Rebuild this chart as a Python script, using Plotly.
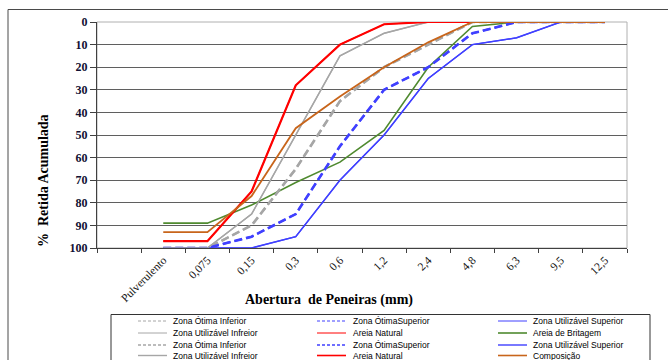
import plotly.graph_objects as go

# Sieve openings (mm); the first slot on the axis is left empty
sieves = ["Pulverulento", "0,075", "0,15", "0,3", "0,6", "1,2", "2,4", "4,8", "6,3", "9,5", "12,5"]
axis_categories = [" "] + sieves
y_ticks = [0, 10, 20, 30, 40, 50, 60, 70, 80, 90, 100]

# Cumulative retained percentage per sieve
otima_inferior = [100, 100, 90, 65, 35, 20, 10, 0, 0, 0, 0]
otima_superior = [100, 100, 95, 85, 55, 30, 20, 5, 0, 0, 0]
utilizavel_superior = [100, 100, 100, 95, 70, 50, 25, 10, 7, 0, 0]
utilizavel_inferior = [100, 100, 85, 50, 15, 5, 0, 0, 0, 0, 0]
areia_natural = [97, 97, 75, 28, 10, 1, 0, 0, 0, 0, 0]
areia_britagem = [89, 89, 81, 71, 62, 48, 20, 2, 0, 0, 0]
composicao = [93, 93, 77, 47, 33, 20, 9, 0, 0, 0, 0]

GRAY = "#a6a6a6"
BLUE = "#4040ff"
RED = "#ff0000"
GREEN = "#4f8a2f"
ORANGE = "#c8651b"

# name, values, colour, dash, plot width, legend width
series = [
    ("Zona Ótima Inferior", otima_inferior, GRAY, "8px,4px", 2.0, 1.0),
    ("Zona ÓtimaSuperior", otima_superior, BLUE, "8px,4px", 2.0, 1.0),
    ("Zona Utilizável Superior", utilizavel_superior, BLUE, "solid", 1.2, 1.0),
    ("Zona Utilizável Infreior", utilizavel_inferior, GRAY, "solid", 1.2, 1.0),
    ("Areia Natural", areia_natural, RED, "solid", 1.2, 1.0),
    ("Areia de Britagem", areia_britagem, GREEN, "solid", 1.6, 1.6),
    ("Zona Ótima Inferior", otima_inferior, GRAY, "8px,4px", 2.6, 1.4),
    ("Zona ÓtimaSuperior", otima_superior, BLUE, "8px,4px", 2.6, 1.4),
    ("Zona Utilizável Superior", utilizavel_superior, BLUE, "solid", 1.5, 1.4),
    ("Zona Utilizável Infreior", utilizavel_inferior, GRAY, "solid", 1.5, 1.4),
    ("Areia Natural", areia_natural, RED, "solid", 2.2, 1.6),
    ("Composição", composicao, ORANGE, "solid", 1.8, 1.6),
]

W, H = 668, 360
L, R, T, B = 97, 627, 22, 248  # plot area in pixels
PW, PH = R - L, B - T


def px(x):
    return (x - L) / PW


def py(y):
    return (B - y) / PH


fig = go.Figure()
for name, vals, color, dash, width, _ in series:
    fig.add_trace(go.Scatter(
        x=sieves, y=vals, name=name, mode="lines",
        line=dict(color=color, dash=dash, width=width),
        showlegend=False,
    ))

shapes = []
annotations = []

# outer frame of the figure
shapes.append(dict(type="rect", xref="paper", yref="paper",
                   x0=px(8), x1=px(720), y0=py(9.5), y1=py(420),
                   line=dict(color="#4a4a4a", width=1), layer="below"))
# plot-area border (top and right in light gray)
shapes.append(dict(type="rect", xref="paper", yref="paper",
                   x0=0, x1=1, y0=0, y1=1,
                   line=dict(color="#b0b0b0", width=1), layer="between"))

# legend box
shapes.append(dict(type="rect", xref="paper", yref="paper",
                   x0=px(111), x1=px(650), y0=py(314.5), y1=py(400),
                   line=dict(color="#333333", width=1)))
col_line = [(138, 167), (317, 346), (498, 527)]
col_text = [171, 351, 531]
row_y = [321.0, 333.0, 345.0, 355.5]
for i, (name, vals, color, dash, width, lw) in enumerate(series):
    r, c = divmod(i, 3)
    ldash = "3px,2px" if dash != "solid" else "solid"
    shapes.append(dict(type="line", xref="paper", yref="paper",
                       x0=px(col_line[c][0]), x1=px(col_line[c][1]),
                       y0=py(row_y[r]), y1=py(row_y[r]),
                       line=dict(color=color, width=lw, dash=ldash)))
    annotations.append(dict(text=name, xref="paper", yref="paper",
                            x=px(col_text[c]), y=py(row_y[r]),
                            xanchor="left", yanchor="middle", showarrow=False,
                            font=dict(family="Liberation Sans", size=8.5, color="#000000")))

# axis titles
annotations.append(dict(text="<b>%  Retida Acumulada</b>", xref="paper", yref="paper",
                        x=px(43), y=py(181), textangle=-90, showarrow=False,
                        xanchor="center", yanchor="middle",
                        font=dict(family="Liberation Serif", size=14, color="#000000")))
annotations.append(dict(text="<b>Abertura\u00a0 de Peneiras (mm)</b>", xref="paper", yref="paper",
                        x=px(329), y=py(300), showarrow=False,
                        xanchor="center", yanchor="middle",
                        font=dict(family="Liberation Serif", size=14, color="#000000")))

fig.update_layout(
    width=W, height=H,
    margin=dict(l=L, r=W - R, t=T, b=H - B, pad=0),
    paper_bgcolor="white", plot_bgcolor="white",
    showlegend=False,
    shapes=shapes, annotations=annotations,
    xaxis=dict(
        type="category", categoryorder="array", categoryarray=axis_categories,
        range=[-0.5, len(axis_categories) - 0.5],
        tickson="boundaries", ticks="outside", ticklen=4, tickcolor="#404040",
        tickangle=-45, showgrid=False, zeroline=False,
        showline=True, linecolor="#404040", linewidth=1.2,
        tickfont=dict(family="Liberation Serif", size=11.5, color="#111111"),
        fixedrange=True,
    ),
    yaxis=dict(
        range=[100, 0], tickvals=y_ticks, ticktext=[str(v) for v in y_ticks],
        ticks="outside", ticklen=6, tickcolor="#404040",
        showgrid=True, gridcolor="#5f5f5f", gridwidth=1.3, zeroline=False,
        showline=True, linecolor="#404040", linewidth=1.2,
        tickfont=dict(family="Liberation Serif", size=12, color="#111133", weight="bold"),
        fixedrange=True,
    ),
)

fig.write_html("out.html")
